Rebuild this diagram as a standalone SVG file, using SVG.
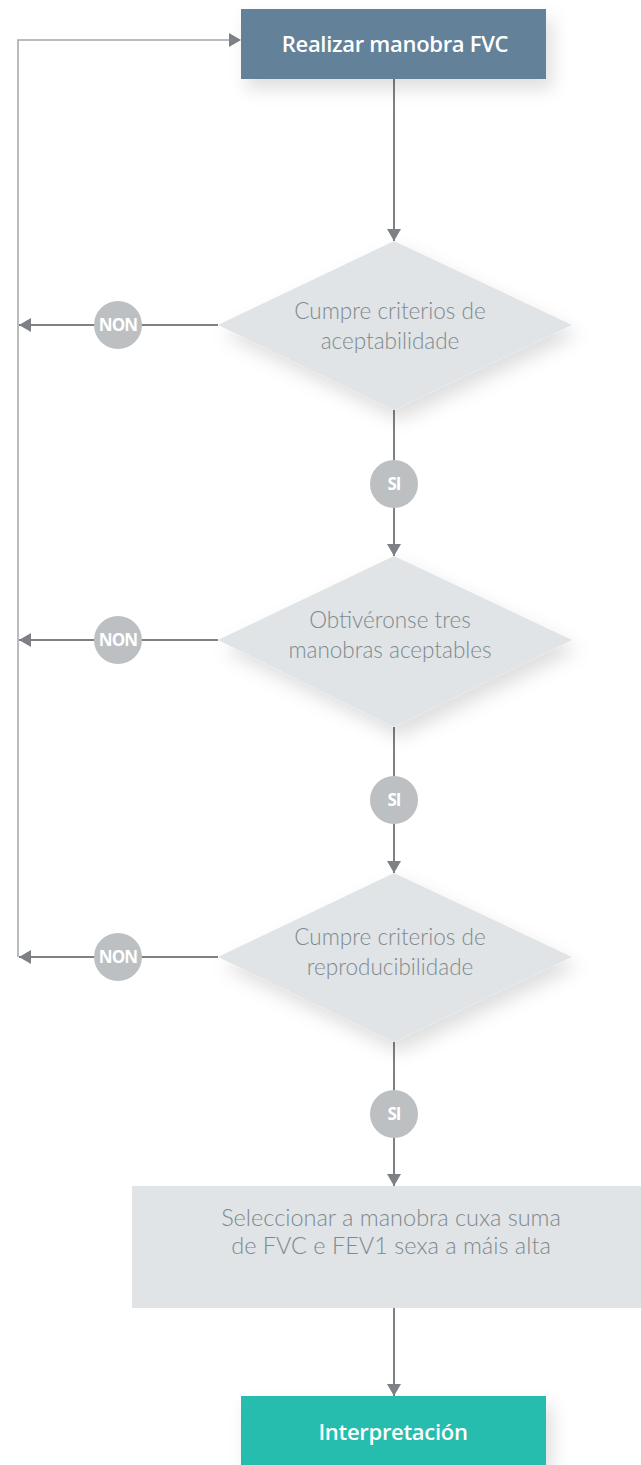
<svg xmlns="http://www.w3.org/2000/svg" width="641" height="1465" viewBox="0 0 641 1465">
<style>
.conn{fill:none;stroke:#7d8185;stroke-width:2}
.loop{fill:none;stroke:#a3a6a9;stroke-width:1.5}
.dia{fill:#e0e4e6;filter:url(#sh)}
.lbl{fill:#7f898e;font-family:Lato,"Open Sans",sans-serif;font-weight:300;font-size:22.5px;text-anchor:middle}
.badge{fill:#bcc0c2}
.bt{fill:#fff;font-family:"Open Sans","Noto Sans",sans-serif;font-weight:700;font-size:17px;text-anchor:middle;letter-spacing:-0.9px}
.ht{fill:#fff;font-family:"Open Sans","Noto Sans",sans-serif;font-weight:600;font-size:22px;text-anchor:middle;letter-spacing:-0.3px}
</style>
<defs>
<filter id="sh" x="-20%" y="-20%" width="150%" height="160%">
<feDropShadow dx="6" dy="10" stdDeviation="9" flood-color="#000" flood-opacity="0.13"/>
</filter>
<marker id="ah" markerWidth="14" markerHeight="14" refX="12" refY="7" orient="auto" markerUnits="userSpaceOnUse">
<path d="M0,0 L12,7 L0,14 Z" fill="#7d8185"/>
</marker>
</defs>
<g id="connectors">
<path class="loop" d="M18,325 L18,40 L230,40"/>
<path d="M229,33 L241,40 L229,47 Z" fill="#7d8185"/>
<path class="loop" d="M18,325 L18,957"/>
<path class="conn" d="M394,79 L394,241" marker-end="url(#ah)"/>
<path class="conn" d="M218,325 L19,325" marker-end="url(#ah)"/>
<path class="conn" d="M394,410 L394,556" marker-end="url(#ah)"/>
<path class="conn" d="M218,640 L19,640" marker-end="url(#ah)"/>
<path class="conn" d="M394,727 L394,873" marker-end="url(#ah)"/>
<path class="conn" d="M218,957 L19,957" marker-end="url(#ah)"/>
<path class="conn" d="M394,1042 L394,1186" marker-end="url(#ah)"/>
<path class="conn" d="M394,1308 L394,1396" marker-end="url(#ah)"/>
</g>
<g id="n1">
<rect x="241" y="9" width="305" height="70" fill="#64829a" filter="url(#sh)"/>
<text class="ht" x="395" y="52">Realizar manobra FVC</text>
</g>
<g id="d1">
<polygon class="dia" points="394,241 572,325 394,410 218,325"/>
<text class="lbl" x="390" y="319">Cumpre criterios de</text>
<text class="lbl" x="390" y="349">aceptabilidade</text>
</g>
<g id="non1"><circle class="badge" cx="118" cy="325" r="24"/><text class="bt" x="118" y="331">NON</text></g>
<g id="si1"><circle class="badge" cx="394" cy="484" r="24"/><text class="bt" x="394" y="490">SI</text></g>
<g id="d2">
<polygon class="dia" points="394,556 572,640 394,727 218,640"/>
<text class="lbl" x="390" y="628">Obtivéronse tres</text>
<text class="lbl" x="390" y="658">manobras aceptables</text>
</g>
<g id="non2"><circle class="badge" cx="118" cy="640" r="24"/><text class="bt" x="118" y="646">NON</text></g>
<g id="si2"><circle class="badge" cx="394" cy="800" r="24"/><text class="bt" x="394" y="806">SI</text></g>
<g id="d3">
<polygon class="dia" points="394,873 572,957 394,1042 218,957"/>
<text class="lbl" x="390" y="945">Cumpre criterios de</text>
<text class="lbl" x="390" y="975">reproducibilidade</text>
</g>
<g id="non3"><circle class="badge" cx="118" cy="957" r="24"/><text class="bt" x="118" y="963">NON</text></g>
<g id="si3"><circle class="badge" cx="394" cy="1114" r="24"/><text class="bt" x="394" y="1120">SI</text></g>
<g id="n5">
<rect x="132" y="1186" width="509" height="122" fill="#e0e4e6"/>
<text class="lbl" x="391" y="1226" style="font-size:23.5px">Seleccionar a manobra cuxa suma</text>
<text class="lbl" x="391" y="1254" style="font-size:23.5px">de FVC e FEV1 sexa a máis alta</text>
</g>
<g id="n6">
<rect x="241" y="1396" width="305" height="69" fill="#27bcae" filter="url(#sh)"/>
<text class="ht" x="393" y="1440">Interpretación</text>
</g>
</svg>
